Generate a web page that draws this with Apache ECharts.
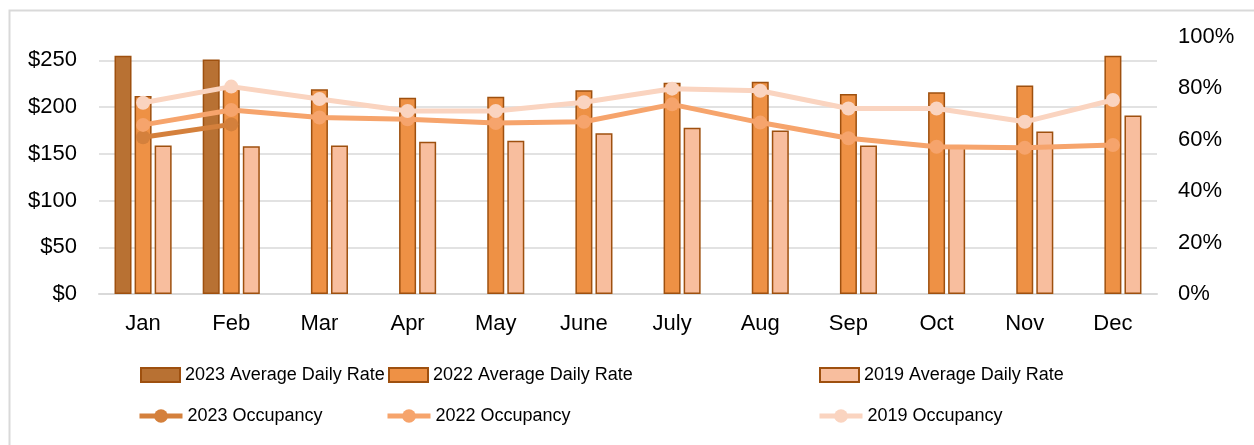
<!DOCTYPE html>
<html>
<head>
<meta charset="utf-8">
<script src="https://cdn.jsdelivr.net/npm/echarts@6/dist/echarts.min.js"></script>
<style>
html,body{margin:0;padding:0;background:#fff;}
#chart{width:1254px;height:445px;}
</style>
</head>
<body>
<div id="chart"></div>
<script>
const months = ['Jan','Feb','Mar','Apr','May','June','July','Aug','Sep','Oct','Nov','Dec'];
const adr2023 = [255, 251, null, null, null, null, null, null, null, null, null, null];
const adr2022 = [212, 221, 219, 210, 211, 218, 226, 227, 214, 216, 223, 255];
const adr2019 = [159, 158, 159, 163, 164, 172, 178, 175, 159, 157, 174, 191];
const occ2023 = [0.61, 0.66, null, null, null, null, null, null, null, null, null, null];
const occ2022 = [0.658, 0.716, 0.687, 0.68, 0.665, 0.67, 0.738, 0.667, 0.606, 0.573, 0.569, 0.58];
const occ2019 = [0.744, 0.807, 0.759, 0.712, 0.712, 0.746, 0.799, 0.791, 0.722, 0.722, 0.67, 0.755];
const leftTicks = ['$0','$50','$100','$150','$200','$250'];
const rightTicks = ['0%','20%','40%','60%','80%','100%'];

const names = ['2023 Average Daily Rate','2022 Average Daily Rate','2019 Average Daily Rate',
               '2023 Occupancy','2022 Occupancy','2019 Occupancy'];
const lineColors = ['#D4803C', '#F6A46C', '#FAD4C0'];

const FONT = '"Liberation Sans", Arial, sans-serif';
const borderC = '#9E500F';

function barSeries(name, data, color) {
  return {
    name: name, type: 'bar', yAxisIndex: 0, data: data,
    barWidth: 17, barGap: '18%',
    itemStyle: { color: color, borderColor: borderC, borderWidth: 1.5 }
  };
}
function lineSeries(name, data, color) {
  return {
    name: name, type: 'line', yAxisIndex: 1, data: data,
    symbol: 'circle', symbolSize: 14, showSymbol: true,
    lineStyle: { color: color, width: 5 },
    itemStyle: { color: color },
    z: 3
  };
}

const legendPos = [
  [140, 366], [388, 366], [819, 366],
  [137, 407], [385, 407], [817, 407]
];

const legends = names.map((n, i) => {
  const isBar = i < 3;
  const lg = {
    data: [n], left: legendPos[i][0], top: legendPos[i][1], padding: 0,
    itemWidth: isBar ? 39 : 43, itemHeight: isBar ? 14 : 17,
    textStyle: { fontSize: 18, color: '#000', fontFamily: FONT }
  };
  if (isBar) {
    lg.icon = 'rect';
  } else {
    lg.lineStyle = { width: 5, color: lineColors[i - 3] };
    lg.itemStyle = { color: lineColors[i - 3] };
  }
  return lg;
});

const chart = echarts.init(document.getElementById('chart'), null, { renderer: 'canvas' });
chart.setOption({
  animation: false,
  backgroundColor: '#ffffff',
  textStyle: { fontFamily: FONT },
  graphic: [{
    type: 'rect', left: 7, top: 8, silent: true,
    shape: { x: 0, y: 0, width: 1300, height: 500 },
    style: { fill: 'none', stroke: '#d9d9d9', lineWidth: 2 }
  }],
  grid: { left: 99, right: 97, top: 37, bottom: 151, containLabel: false },
  legend: legends,
  xAxis: {
    type: 'category', data: months, boundaryGap: true,
    axisLine: { show: true, lineStyle: { color: '#d9d9d9', width: 2 } },
    axisTick: { show: false },
    axisLabel: { fontSize: 22, color: '#000', margin: 19, fontFamily: FONT }
  },
  yAxis: [{
    type: 'value', min: 0, max: 275, interval: 50,
    axisLine: { show: false }, axisTick: { show: false },
    axisLabel: { fontSize: 22, color: '#000', margin: 22, fontFamily: FONT, showMaxLabel: false,
      formatter: v => leftTicks[Math.round(v / 50)] || '' },
    splitLine: { show: true, showMaxLine: false, lineStyle: { color: '#d9d9d9', width: 1.5 } }
  }, {
    type: 'value', min: 0, max: 1, interval: 0.2, position: 'right',
    axisLine: { show: false }, axisTick: { show: false },
    axisLabel: { fontSize: 22, color: '#000', margin: 21, fontFamily: FONT,
      formatter: v => rightTicks[Math.round(v / 0.2)] },
    splitLine: { show: false }
  }],
  series: [
    barSeries(names[0], adr2023, '#B87133'),
    barSeries(names[1], adr2022, '#EE9145'),
    barSeries(names[2], adr2019, '#F8BE9E'),
    lineSeries(names[3], occ2023, lineColors[0]),
    lineSeries(names[4], occ2022, lineColors[1]),
    lineSeries(names[5], occ2019, lineColors[2])
  ]
});
</script>
</body>
</html>
